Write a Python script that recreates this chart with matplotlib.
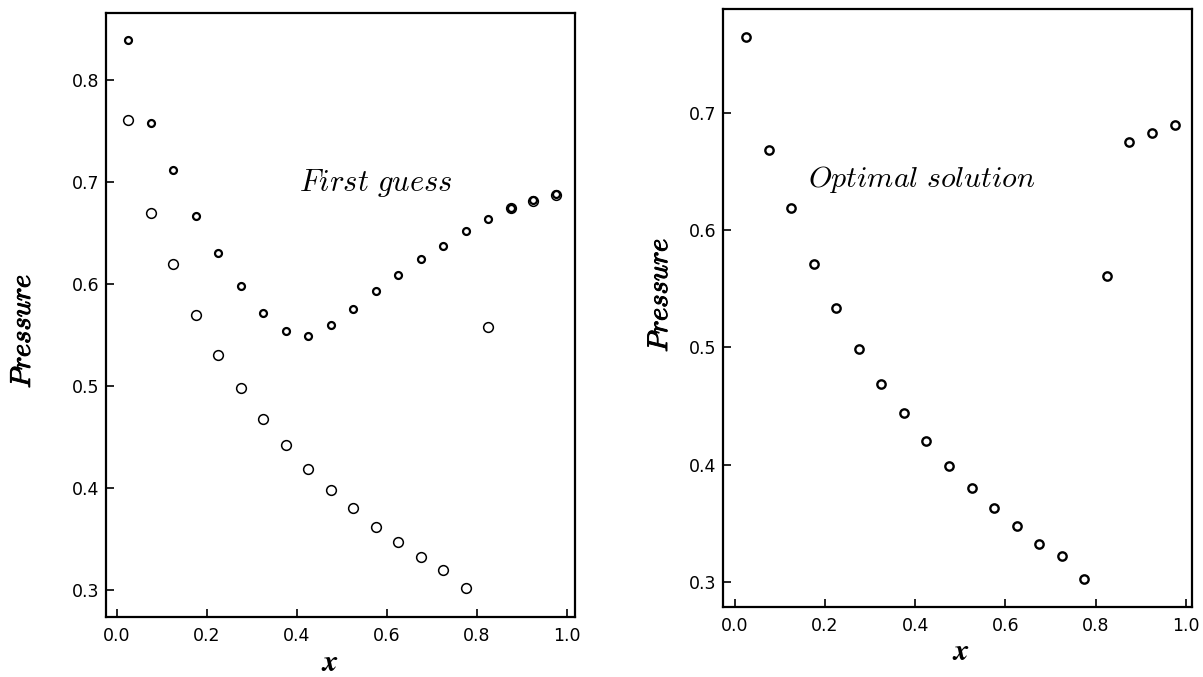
import matplotlib.pyplot as plt
import matplotlib.patheffects as pe

plt.rcParams['mathtext.fontset'] = 'cm'

x = [0.025, 0.075, 0.125, 0.175, 0.225, 0.275, 0.325, 0.375, 0.425, 0.475,
     0.525, 0.575, 0.625, 0.675, 0.725, 0.775, 0.825, 0.875, 0.925, 0.975]

first_guess = [0.840, 0.758, 0.712, 0.667, 0.631, 0.598, 0.572, 0.554, 0.549, 0.560,
               0.576, 0.593, 0.609, 0.625, 0.638, 0.652, 0.664, 0.675, 0.683, 0.689]

target = [0.761, 0.670, 0.620, 0.570, 0.531, 0.498, 0.468, 0.442, 0.419, 0.398,
          0.380, 0.362, 0.347, 0.332, 0.320, 0.302, 0.558, 0.675, 0.682, 0.688]

optimal = [0.764, 0.668, 0.619, 0.571, 0.534, 0.499, 0.469, 0.444, 0.420, 0.399,
           0.380, 0.363, 0.348, 0.333, 0.322, 0.303, 0.561, 0.675, 0.683, 0.689]

xticks = [0.0, 0.2, 0.4, 0.6, 0.8, 1.0]

fig = plt.figure(figsize=(12.03, 6.77), dpi=100)
ax1 = fig.add_axes([0.0881, 0.0886, 0.390, 0.892])
ax2 = fig.add_axes([0.601, 0.1034, 0.390, 0.883])

ax1.plot(x, first_guess, 'o', ms=5, mfc='white', mec='black', mew=1.6)
ax1.plot(x, target, 'o', ms=7, mfc='none', mec='black', mew=1.1)
ax1.set_xlim(-0.024, 1.018)
ax1.set_ylim(0.2735, 0.866)
ax1.set_yticks([0.3, 0.4, 0.5, 0.6, 0.7, 0.8])
ax1.text(0.405, 0.699, r'$\mathit{First\ guess}$', fontsize=22, va='center')

ax2.plot(x, optimal, 'o', ms=6, mfc='none', mec='black', mew=1.7)
ax2.set_xlim(-0.026, 1.014)
ax2.set_ylim(0.279, 0.788)
ax2.set_yticks([0.3, 0.4, 0.5, 0.6, 0.7])
ax2.text(0.162, 0.643, r'$\mathit{Optimal\ solution}$', fontsize=21.5, va='center')

bold = [pe.withStroke(linewidth=0.7, foreground='black')]

for ax in [ax1, ax2]:
    ax.set_xticks(xticks)
    ax.xaxis.set_major_formatter(plt.FormatStrFormatter('%.1f'))
    ax.yaxis.set_major_formatter(plt.FormatStrFormatter('%.1f'))
    ax.tick_params(direction='in', length=6, width=1.2, labelsize=12.5, pad=5)
    ax.tick_params(axis='x', pad=7)
    for s in ax.spines.values():
        s.set_linewidth(1.6)
    ax.set_xlabel(r'$\boldsymbol{x}$', fontsize=22, va='center')
    ax.set_ylabel(r'$\mathit{Pressure}$', fontsize=20.5, va='center',
                  path_effects=bold)

ax1.xaxis.set_label_coords(0.478, -0.0745)
ax2.xaxis.set_label_coords(0.507, -0.075)
ax1.yaxis.set_label_coords(-0.179, 0.4735)
ax2.yaxis.set_label_coords(-0.136, 0.522)

plt.savefig('out.png', dpi=100)
